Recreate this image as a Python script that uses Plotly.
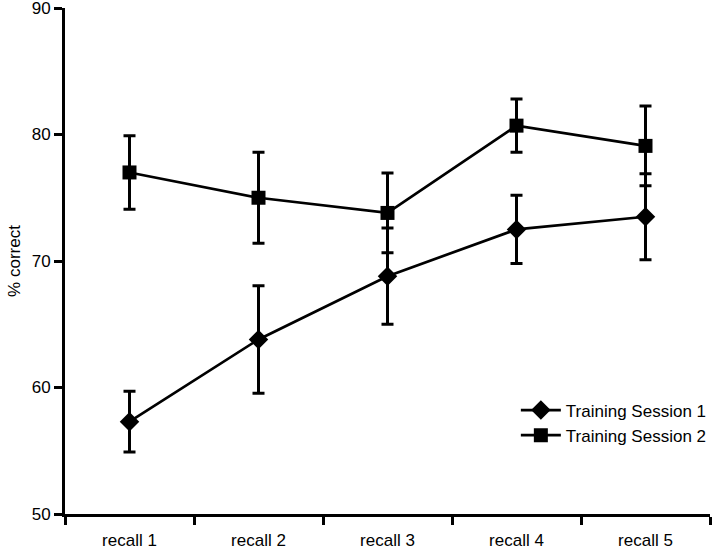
import plotly.graph_objects as go

categories = ["recall 1", "recall 2", "recall 3", "recall 4", "recall 5"]
session1 = [57.3, 63.8, 68.8, 72.5, 73.5]
session1_err = [2.4, 4.25, 3.8, 2.7, 3.4]
session2 = [77.0, 75.0, 73.8, 80.7, 79.1]
session2_err = [2.9, 3.6, 3.15, 2.1, 3.15]
y_ticks = [50, 60, 70, 80, 90]

FONT = "Liberation Sans, Arial, Helvetica, sans-serif"

fig = go.Figure()
fig.add_trace(go.Scatter(
    x=categories, y=session1, name="Training Session 1",
    mode="lines+markers",
    line=dict(color="black", width=2.7),
    marker=dict(symbol="diamond", size=15, color="black"),
    error_y=dict(type="data", array=session1_err, visible=True,
                 color="black", thickness=3, width=6),
))
fig.add_trace(go.Scatter(
    x=categories, y=session2, name="Training Session 2",
    mode="lines+markers",
    line=dict(color="black", width=2.7),
    marker=dict(symbol="square", size=14, color="black"),
    error_y=dict(type="data", array=session2_err, visible=True,
                 color="black", thickness=3, width=6),
))

fig.update_layout(
    width=720, height=552,
    margin=dict(l=65, r=10, t=8, b=38, autoexpand=False),
    paper_bgcolor="white", plot_bgcolor="white",
    font=dict(family=FONT, size=17, color="black"),
    showlegend=True,
    legend=dict(x=0.699, xanchor="left", y=0.24, yanchor="top",
                font=dict(size=17), bgcolor="rgba(0,0,0,0)",
                tracegroupgap=0, itemwidth=40),
)
fig.update_xaxes(
    type="category", range=[-0.5, 4.5], automargin=False,
    showline=True, linecolor="black", linewidth=3,
    ticks="outside", tickson="boundaries", ticklen=8, tickwidth=3, tickcolor="black",
    showgrid=False, zeroline=False, ticklabelstandoff=9,
    tickfont=dict(size=17),
)
fig.update_yaxes(
    range=[50, 90], tickvals=y_ticks, automargin=False,
    showline=True, linecolor="black", linewidth=3,
    ticks="outside", ticklen=8, tickwidth=3, tickcolor="black",
    showgrid=False, zeroline=False, ticklabeloverflow="allow",
    title=dict(text="% correct", font=dict(size=17), standoff=7),
    tickfont=dict(size=17),
)

fig.write_html(
    "out.html",
    config={"displayModeBar": False},
    post_script="document.body.style.margin='0';document.body.style.overflow='hidden';",
)
